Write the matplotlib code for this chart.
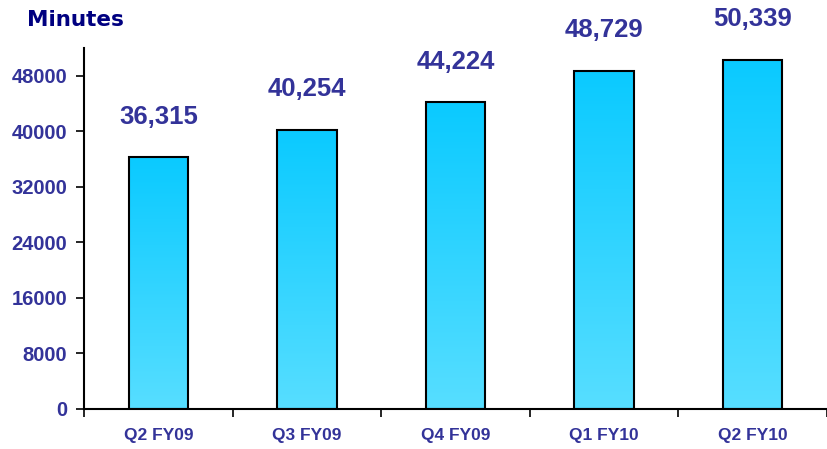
import matplotlib.pyplot as plt
import numpy as np
from matplotlib.colors import LinearSegmentedColormap

# Quarterly minutes
quarters = ['Q2 FY09', 'Q3 FY09', 'Q4 FY09', 'Q1 FY10', 'Q2 FY10']
minutes = [36315, 40254, 44224, 48729, 50339]
y_ticks = [0, 8000, 16000, 24000, 32000, 40000, 48000]

label_color = '#333399'
grad = LinearSegmentedColormap.from_list('bar_grad', ['#57DEFF', '#0ACAFF'])

fig = plt.figure(figsize=(8.28, 4.49), dpi=100)
ax = fig.add_axes([84 / 828, 40 / 449, 743 / 828, 361 / 449])

x = np.arange(len(quarters))
bars = ax.bar(x, minutes, width=0.4, facecolor='none', edgecolor='black', linewidth=1.5, zorder=3)

# fill each bar with a vertical gradient
g = np.linspace(0, 1, 256).reshape(-1, 1)
for b in bars:
    x0, w, h = b.get_x(), b.get_width(), b.get_height()
    im = ax.imshow(g, cmap=grad, origin='lower', aspect='auto',
                   extent=[x0, x0 + w, 0, h], zorder=2)
    im.set_clip_path(b)

for xi, v in zip(x, minutes):
    ax.annotate(f'{v:,}', (xi, v), xytext=(0, 29), textcoords='offset points',
                ha='center', va='center', fontsize=18.5, fontweight='bold',
                color=label_color, family='Liberation Sans')

ax.set_xlim(-0.5, len(quarters) - 0.5)
ax.set_ylim(0, 52000)
ax.set_yticks(y_ticks)
ax.set_yticklabels([str(t) for t in y_ticks], fontsize=14.5, fontweight='bold',
                   color=label_color, family='Liberation Sans')

# category labels between boundary ticks
ax.set_xticks(np.arange(len(quarters) + 1) - 0.5)
ax.set_xticklabels([])
ax.set_xticks(x, minor=True)
ax.set_xticklabels(quarters, minor=True, fontsize=12.5, fontweight='bold',
                   color=label_color, family='Liberation Sans')
ax.tick_params(axis='x', which='minor', length=0, pad=14)
ax.tick_params(axis='x', which='major', length=6, width=1.2, direction='out')
ax.tick_params(axis='y', length=6, width=1.2, direction='out', pad=6)

for s in ['top', 'right']:
    ax.spines[s].set_visible(False)
ax.spines['left'].set_linewidth(1.5)
ax.spines['bottom'].set_linewidth(1.5)
ax.patch.set_alpha(0)

fig.text(27 / 828, 1 - 20 / 449, 'Minutes', fontsize=15.5, fontweight='bold',
         color='#000080', va='center', ha='left', family='DejaVu Sans')

fig.savefig('out.png', dpi=100)
